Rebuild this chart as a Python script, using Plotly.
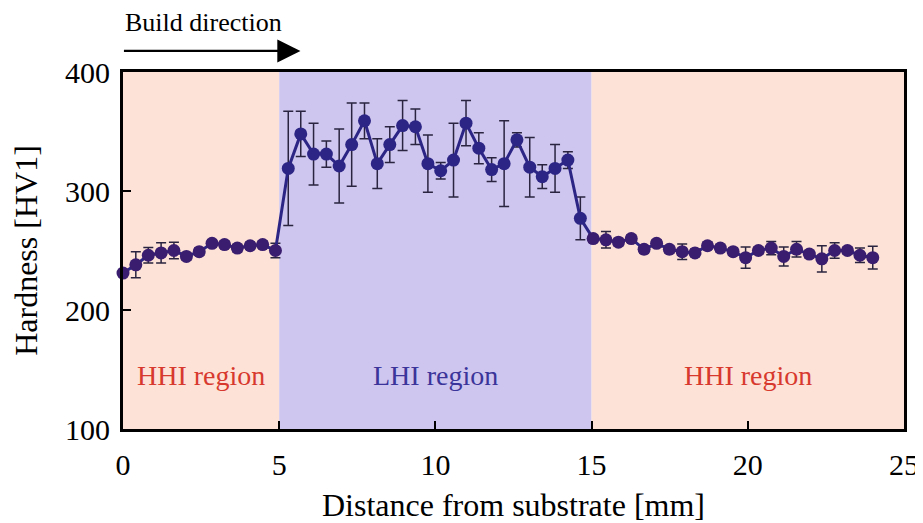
import plotly.graph_objects as go

# Distance from substrate [mm]
distance = [0.00, 0.41, 0.81, 1.22, 1.63, 2.03, 2.44, 2.85, 3.25, 3.66,
            4.07, 4.47, 4.88, 5.29, 5.69, 6.10, 6.51, 6.92, 7.32, 7.73,
            8.14, 8.54, 8.95, 9.36, 9.76, 10.17, 10.58, 10.98, 11.39, 11.80,
            12.20, 12.61, 13.02, 13.42, 13.83, 14.24, 14.64, 15.05, 15.46, 15.86,
            16.27, 16.68, 17.08, 17.49, 17.90, 18.31, 18.71, 19.12, 19.53, 19.93,
            20.34, 20.75, 21.15, 21.56, 21.97, 22.37, 22.78, 23.19, 23.59, 24.00]

# Hardness [HV1]
hardness = [231, 238, 246, 248, 250, 245, 249, 256, 255, 252,
            254, 255, 250, 319, 348, 331, 331, 321, 339, 359,
            323, 339, 355, 354, 323, 317, 326, 357, 336, 318,
            323, 343, 320, 312, 319, 326, 277, 260, 259, 257,
            260, 251, 256, 251, 249, 248, 254, 252, 249, 244,
            250, 252, 245, 251, 247, 243, 250, 250, 246, 244]

# Error (±) [HV1]
hardness_err = [0, 11, 6.5, 8.5, 7, 3, 3, 3, 3, 3,
                3, 3, 6, 48, 19, 26, 11, 31, 35, 15,
                21, 15, 21, 15, 24, 7, 31, 19, 13, 10,
                36, 6, 25, 10, 20, 7, 18, 3, 7, 3,
                3, 3, 3, 3, 6.5, 3, 3, 3, 3, 9,
                3, 5.5, 8, 6.5, 3, 11, 6.5, 3, 6, 9.5]

region_spans = [(0, 5, "#fde3d7"), (5, 15, "#cec6ee"), (15, 25, "#fde3d7")]
region_labels = [(2.5, "HHI region", "#d8392e"), (10, "LHI region", "#3b349a"),
                 (20, "HHI region", "#d8392e")]

font_family = "Liberation Serif, Times New Roman, serif"

marker_colors = ["#3a1d6e" if (x < 5 or x > 15) else "#2c2585" for x in distance]

fig = go.Figure()

fig.add_trace(go.Scatter(
    x=distance, y=hardness,
    mode="lines+markers",
    line=dict(color="#2c2585", width=3),
    marker=dict(color=marker_colors, size=13),
    error_y=dict(type="data", array=hardness_err, visible=True,
                 color="#2a2440", thickness=1.5, width=5),
    showlegend=False,
    cliponaxis=False,
))

shapes = []
for x0, x1, col in region_spans:
    shapes.append(dict(type="rect", xref="x", yref="paper", x0=x0, x1=x1, y0=0, y1=1,
                       fillcolor=col, line=dict(width=0), layer="below"))

annotations = []
for xc, txt, col in region_labels:
    annotations.append(dict(x=xc, y=145, xref="x", yref="y", text=txt, showarrow=False,
                            font=dict(family=font_family, size=28, color=col)))

# Build direction arrow
annotations.append(dict(x=5.68, y=1.059, xref="x", yref="paper",
                        ax=-178, ay=0, axref="pixel", ayref="pixel",
                        showarrow=True, arrowhead=2, arrowsize=2.1, arrowwidth=2.2,
                        arrowcolor="black", text=""))
annotations.append(dict(x=0, y=1.14, xref="x", yref="paper", xanchor="left", yanchor="middle",
                        text="Build direction", showarrow=False,
                        font=dict(family=font_family, size=26, color="black")))

fig.update_layout(
    width=915, height=515,
    margin=dict(l=115, r=19, t=64, b=94, autoexpand=False),
    paper_bgcolor="white",
    plot_bgcolor="white",
    shapes=shapes,
    annotations=annotations,
    font=dict(family=font_family, color="black"),
)

fig.update_xaxes(
    range=[0, 25], tickvals=[0, 5, 10, 15, 20, 25],
    showline=True, linecolor="black", linewidth=3, mirror=True,
    ticks="inside", ticklen=8, tickwidth=2, tickcolor="black",
    showgrid=False, zeroline=False, automargin=False,
    ticklabelstandoff=7,
    tickfont=dict(family=font_family, size=30, color="black"),
    title=dict(text="Distance from substrate [mm]", standoff=14,
               font=dict(family=font_family, size=32, color="black")),
)
fig.update_yaxes(
    range=[100, 400], tickvals=[100, 200, 300, 400],
    showline=True, linecolor="black", linewidth=3, mirror=True,
    ticks="inside", ticklen=8, tickwidth=2, tickcolor="black",
    showgrid=False, zeroline=False, automargin=False,
    ticklabelstandoff=4,
    tickfont=dict(family=font_family, size=30, color="black"),
    title=dict(text="Hardness [HV1]", standoff=20,
               font=dict(family=font_family, size=32, color="black")),
)

fig.write_html("out.html")
